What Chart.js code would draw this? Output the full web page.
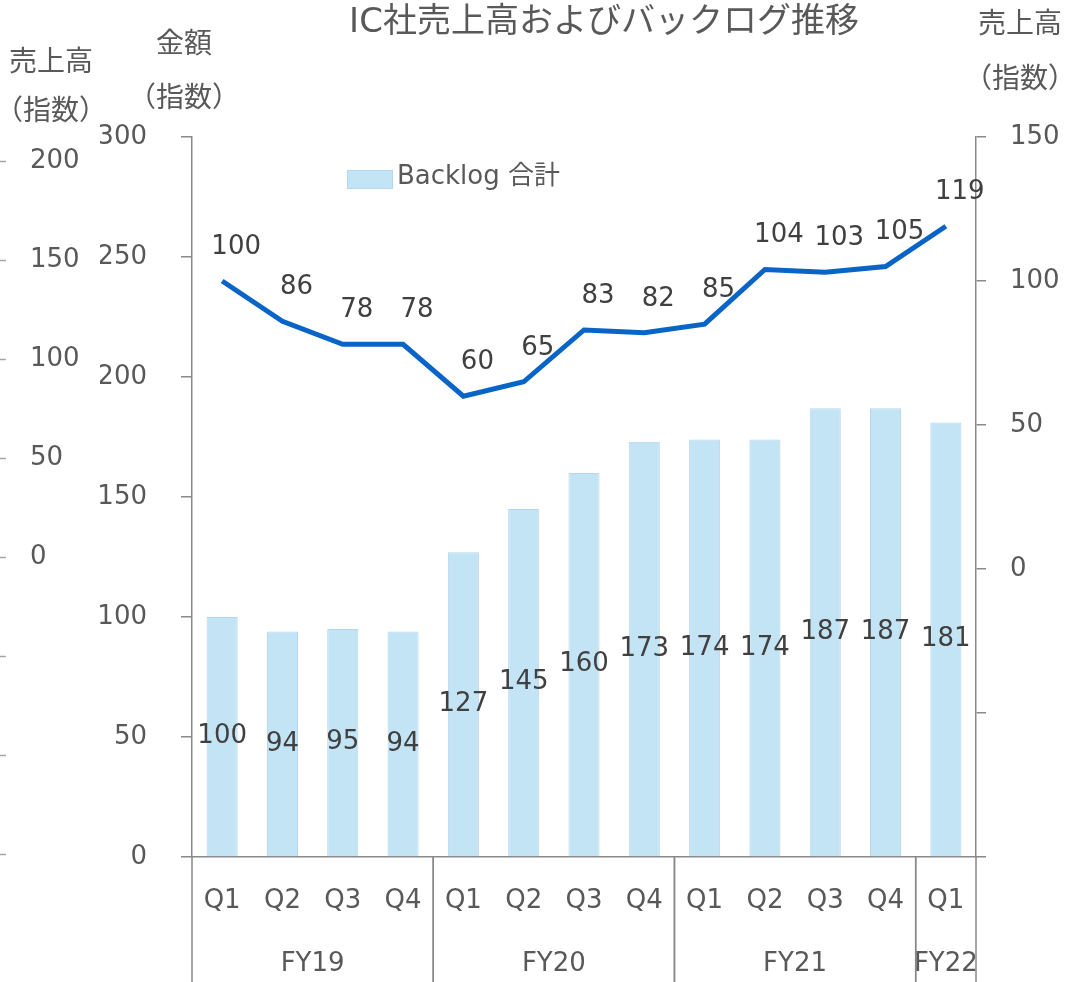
<!DOCTYPE html>
<html>
<head>
<meta charset="utf-8">
<script src="https://cdn.jsdelivr.net/npm/chart.js@4.4.1/dist/chart.umd.min.js"></script>
<style>
  html, body { margin: 0; padding: 0; background: #ffffff; }
  #icChart { display: block; }
</style>
</head>
<body>
<canvas id="icChart" width="1065" height="982"></canvas>
<script>
var chartTitle = 'IC社売上高およびバックログ推移';
var quarters = ['Q1', 'Q2', 'Q3', 'Q4', 'Q1', 'Q2', 'Q3', 'Q4', 'Q1', 'Q2', 'Q3', 'Q4', 'Q1'];
var fiscalYears = ['FY19', 'FY20', 'FY21', 'FY22'];
var quartersPerYear = [4, 4, 4, 1];
var backlogTotal = [100, 94, 95, 94, 127, 145, 160, 173, 174, 174, 187, 187, 181];
var salesIndex = [100, 86, 78, 78, 60, 65, 83, 82, 85, 104, 103, 105, 119];
var amountTicks = [0, 50, 100, 150, 200, 250, 300];
var salesRightTicks = [-100, -50, 0, 50, 100, 150];
var salesLeftTicks = [-150, -100, -50, 0, 50, 100, 150, 200];

var FONT = '"DejaVu Sans", "Noto Sans CJK JP", sans-serif';
var TEXT = '#595959';
var LABEL = '#404040';
var AXIS = '#898989';

function setTicks(values) {
    return function (scale) {
        scale.ticks = values.map(function (v) { return { value: v }; });
    };
}

function hideNegative(v) {
    return v < 0 ? '' : v;
}

// titles, legend, year groups, labels
var decorPlugin = {
    id: 'decor',
    afterDraw: function (chart) {
        var ctx = chart.ctx;
        var area = chart.chartArea;
        var x = chart.scales.x;
        ctx.save();

        ctx.fillStyle = TEXT;
        ctx.textAlign = 'center';
        ctx.textBaseline = 'middle';
        ctx.font = '34px ' + FONT;
        ctx.fillText(chartTitle, 604, 23);

        ctx.font = '28px ' + FONT;
        ctx.fillText('金額', 184, 46);
        ctx.fillText('（指数）', 184, 100);
        ctx.fillText('売上高', 51, 64);
        ctx.fillText('（指数）', 51, 113);
        ctx.fillText('売上高', 1020, 26);
        ctx.fillText('（指数）', 1020, 81);

        // legend inside the plot
        var bar = chart.data.datasets[1];
        ctx.fillStyle = bar.backgroundColor;
        ctx.fillRect(347, 170, 46, 19);
        ctx.strokeStyle = bar.borderColor;
        ctx.lineWidth = 1;
        ctx.strokeRect(347.5, 170.5, 45, 18);
        ctx.fillStyle = TEXT;
        ctx.textAlign = 'left';
        ctx.font = '26px ' + FONT;
        ctx.fillText(bar.label, 397, 177);

        // outer left axis tick marks
        var outer = chart.scales.ySalesLeft;
        ctx.strokeStyle = '#a6a6a6';
        ctx.lineWidth = 1.5;
        outer.ticks.forEach(function (t) {
            var py = Math.round(outer.getPixelForValue(t.value)) + 0.5;
            ctx.beginPath();
            ctx.moveTo(0, py);
            ctx.lineTo(6, py);
            ctx.stroke();
        });

        // year group dividers and labels
        var step = x.getPixelForValue(1) - x.getPixelForValue(0);
        var start = 0;
        ctx.strokeStyle = AXIS;
        ctx.textAlign = 'center';
        ctx.fillStyle = TEXT;
        for (var i = 0; i < fiscalYears.length; i++) {
            var left = x.getPixelForValue(start) - step / 2;
            var end = start + quartersPerYear[i] - 1;
            var right = x.getPixelForValue(end) + step / 2;
            [left, right].forEach(function (px) {
                ctx.beginPath();
                ctx.moveTo(px, area.bottom);
                ctx.lineTo(px, chart.height);
                ctx.stroke();
            });
            ctx.fillText(fiscalYears[i], (left + right) / 2, 964);
            start = end + 1;
        }

        // data labels
        ctx.fillStyle = LABEL;
        chart.getDatasetMeta(1).data.forEach(function (el, idx) {
            var p = el.getProps(['x', 'y', 'base'], true);
            ctx.fillText(backlogTotal[idx], p.x, (p.y + p.base) / 2);
        });
        chart.getDatasetMeta(0).data.forEach(function (el, idx) {
            var p = el.getProps(['x', 'y'], true);
            ctx.fillText(salesIndex[idx], p.x + 14, p.y - 34);
        });
        ctx.restore();
    }
};

Chart.defaults.font.family = FONT;
Chart.defaults.font.size = 26;
Chart.defaults.color = TEXT;

var ctx = document.getElementById('icChart').getContext('2d');
var icChart = new Chart(ctx, {
    data: {
        labels: quarters,
        datasets: [
            {
                type: 'line',
                label: '売上高',
                data: salesIndex,
                yAxisID: 'ySalesRight',
                borderColor: '#0864c6',
                borderWidth: 5,
                pointRadius: 0,
                tension: 0,
                fill: false,
                order: 0
            },
            {
                type: 'bar',
                label: 'Backlog 合計',
                data: backlogTotal,
                yAxisID: 'yAmount',
                backgroundColor: '#c3e4f5',
                borderColor: '#b4d6ee',
                borderWidth: 1,
                barPercentage: 0.515,
                categoryPercentage: 1,
                order: 1
            }
        ]
    },
    options: {
        responsive: false,
        animation: false,
        layout: { padding: { top: 137, left: 30, right: 0, bottom: 0 } },
        plugins: {
            legend: { display: false },
            title: { display: false },
            tooltip: { enabled: false }
        },
        scales: {
            x: {
                offset: true,
                grid: { display: false, drawTicks: false },
                border: { display: true, color: AXIS, width: 1.5 },
                ticks: { padding: 29, color: TEXT, maxRotation: 0, autoSkip: false },
                afterFit: function (scale) { scale.height = 125; }
            },
            yAmount: {
                position: 'left',
                weight: 0,
                min: 0,
                max: 300,
                afterBuildTicks: setTicks(amountTicks),
                grid: { drawOnChartArea: false, tickLength: 11, color: AXIS, lineWidth: 1.5 },
                border: { display: true, color: AXIS, width: 1.5 },
                ticks: { padding: 34, color: TEXT },
                afterFit: function (scale) { scale.width = 92; }
            },
            ySalesLeft: {
                position: 'left',
                weight: 1,
                min: -151.5,
                max: 212,
                afterBuildTicks: setTicks(salesLeftTicks),
                grid: { display: false, drawTicks: false },
                border: { display: false },
                ticks: { crossAlign: 'far', padding: 0, color: TEXT, callback: hideNegative },
                afterFit: function (scale) { scale.width = 70; }
            },
            ySalesRight: {
                position: 'right',
                min: -100,
                max: 150,
                afterBuildTicks: setTicks(salesRightTicks),
                grid: { drawOnChartArea: false, tickLength: 10, color: AXIS, lineWidth: 1.5 },
                border: { display: true, color: AXIS, width: 1.5 },
                ticks: { padding: 24, color: TEXT, callback: hideNegative },
                afterFit: function (scale) { scale.width = 89; }
            }
        }
    },
    plugins: [decorPlugin]
});
</script>
</body>
</html>
